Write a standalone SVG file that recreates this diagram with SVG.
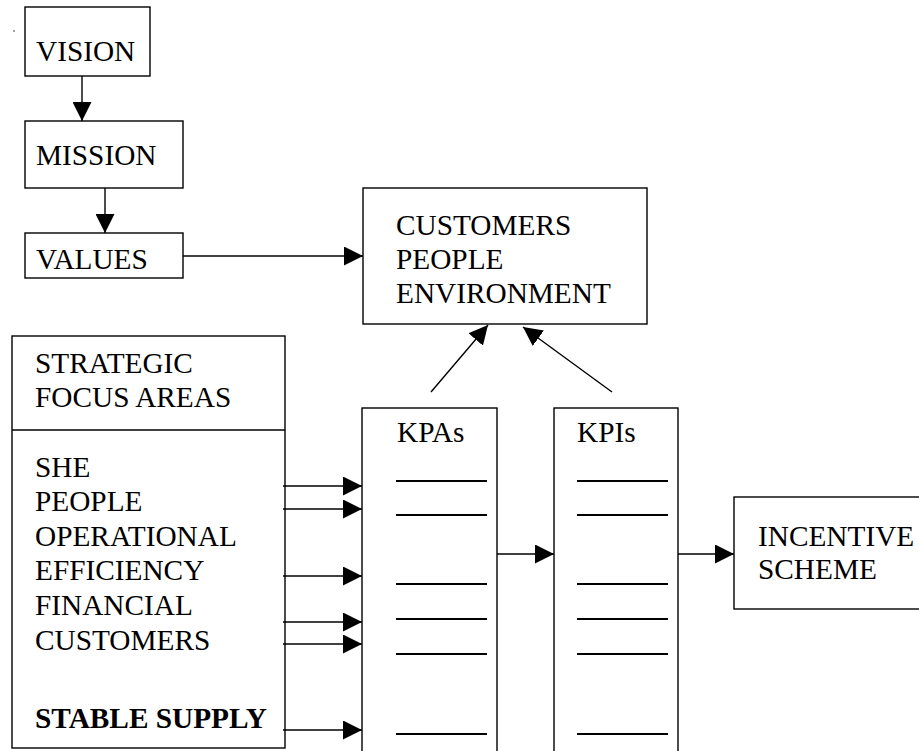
<svg xmlns="http://www.w3.org/2000/svg" width="919" height="751" viewBox="0 0 919 751">
<defs>
<marker id="ah" viewBox="0 0 19 19" refX="19" refY="9.5" markerWidth="19" markerHeight="19" markerUnits="userSpaceOnUse" orient="auto">
<path d="M0,0 L19,9.5 L0,19 Z" fill="#000"/>
</marker>
<style>
.box{fill:#fff;stroke:#000;stroke-width:1.4}
.t{font-family:"Liberation Serif","Times New Roman",serif;font-size:29.3px;fill:#000}
.b{font-weight:bold}
.c{stroke:#000;stroke-width:1.4;fill:none}
.u{stroke:#000;stroke-width:2.2}
</style>
</defs>
<rect width="919" height="751" fill="#fff"/>
<circle cx="14" cy="31" r="0.7" fill="#000"/>
<g id="vision"><rect class="box" x="25" y="7" width="125" height="69"/><text class="t" x="36" y="61">VISION</text></g>
<g id="mission"><rect class="box" x="25" y="121" width="158" height="67"/><text class="t" x="36" y="165">MISSION</text></g>
<g id="values"><rect class="box" x="25" y="233" width="158" height="45"/><text class="t" x="36" y="269">VALUES</text></g>
<g id="cpe"><rect class="box" x="363" y="188" width="284" height="136"/>
<text class="t" x="396" y="235">CUSTOMERS</text><text class="t" x="396" y="269">PEOPLE</text><text class="t" x="396" y="303">ENVIRONMENT</text></g>
<g id="sfa"><rect class="box" x="12" y="336" width="273" height="412"/><line class="c" x1="12" y1="430" x2="285" y2="430"/>
<text class="t" x="35" y="373">STRATEGIC</text><text class="t" x="35" y="407">FOCUS AREAS</text>
<text class="t" x="35" y="477">SHE</text><text class="t" x="35" y="511">PEOPLE</text><text class="t" x="35" y="546">OPERATIONAL</text><text class="t" x="35" y="580">EFFICIENCY</text><text class="t" x="35" y="615">FINANCIAL</text><text class="t" x="35" y="650">CUSTOMERS</text><text class="t b" x="35" y="728">STABLE SUPPLY</text></g>
<g id="kpas"><rect class="box" x="362" y="408" width="135" height="360"/><text class="t" x="397" y="442">KPAs</text>
<line class="u" x1="396" y1="481" x2="487" y2="481"/><line class="u" x1="396" y1="515" x2="487" y2="515"/><line class="u" x1="396" y1="584" x2="487" y2="584"/><line class="u" x1="396" y1="619" x2="487" y2="619"/><line class="u" x1="396" y1="654" x2="487" y2="654"/><line class="u" x1="396" y1="734" x2="487" y2="734"/></g>
<g id="kpis"><rect class="box" x="554" y="408" width="124" height="360"/><text class="t" x="577" y="442">KPIs</text>
<line class="u" x1="577" y1="481" x2="668" y2="481"/><line class="u" x1="577" y1="515" x2="668" y2="515"/><line class="u" x1="577" y1="584" x2="668" y2="584"/><line class="u" x1="577" y1="619" x2="668" y2="619"/><line class="u" x1="577" y1="654" x2="668" y2="654"/><line class="u" x1="577" y1="734" x2="668" y2="734"/></g>
<g id="incentive"><rect class="box" x="734" y="497" width="200" height="112"/><text class="t" x="758" y="546">INCENTIVE</text><text class="t" x="758" y="579">SCHEME</text></g>
<g id="connectors">
<line class="c" x1="82" y1="76" x2="82" y2="121" marker-end="url(#ah)"/>
<line class="c" x1="105" y1="188" x2="105" y2="233" marker-end="url(#ah)"/>
<line class="c" x1="183" y1="256" x2="363" y2="256" marker-end="url(#ah)"/>
<line class="c" x1="431" y1="392" x2="488" y2="325" marker-end="url(#ah)"/>
<line class="c" x1="612" y1="392" x2="523" y2="327" marker-end="url(#ah)"/>
<line class="c" x1="283" y1="486" x2="362" y2="486" marker-end="url(#ah)"/>
<line class="c" x1="283" y1="509" x2="362" y2="509" marker-end="url(#ah)"/>
<line class="c" x1="283" y1="576" x2="362" y2="576" marker-end="url(#ah)"/>
<line class="c" x1="283" y1="622" x2="362" y2="622" marker-end="url(#ah)"/>
<line class="c" x1="283" y1="644" x2="362" y2="644" marker-end="url(#ah)"/>
<line class="c" x1="283" y1="730" x2="362" y2="730" marker-end="url(#ah)"/>
<line class="c" x1="497" y1="554" x2="554" y2="554" marker-end="url(#ah)"/>
<line class="c" x1="678" y1="554" x2="734" y2="554" marker-end="url(#ah)"/>
</g>
</svg>
